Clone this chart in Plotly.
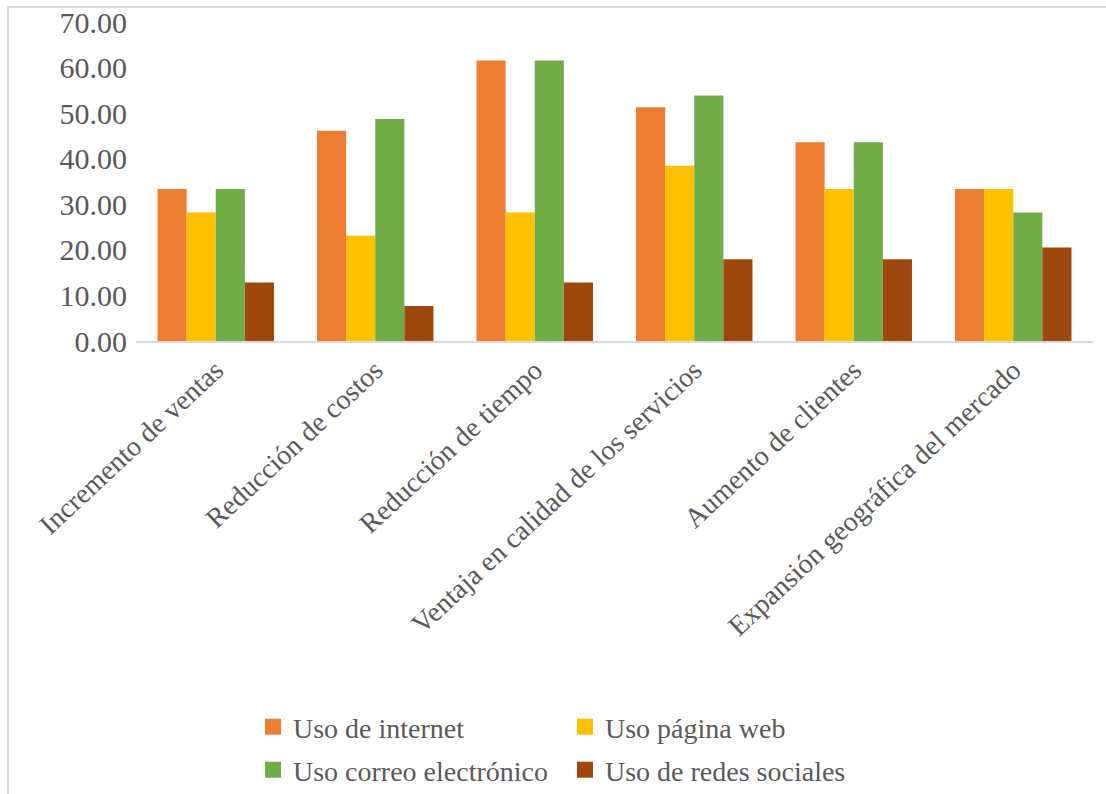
import plotly.graph_objects as go

categories = ["Incremento de ventas", "Reducción de costos", "Reducción de tiempo",
              "Ventaja en calidad de los servicios", "Aumento de clientes",
              "Expansión geográfica del mercado"]
internet = [33.33, 46.15, 61.54, 51.28, 43.59, 33.33]
pagina_web = [28.21, 23.08, 28.21, 38.46, 33.33, 33.33]
correo = [33.33, 48.72, 61.54, 53.85, 43.59, 28.21]
redes = [12.82, 7.69, 12.82, 17.95, 17.95, 20.51]
y_ticks = [0, 10, 20, 30, 40, 50, 60, 70]

FONT = "Liberation Serif"
GRAY = "#595959"

series = [
    ("Uso de internet", internet, "#ED7D31", "legend"),
    ("Uso página web", pagina_web, "#FFC000", "legend"),
    ("Uso correo electrónico", correo, "#70AD47", "legend2"),
    ("Uso de redes sociales", redes, "#9E480E", "legend2"),
]

fig = go.Figure()
for name, vals, color, leg in series:
    fig.add_trace(go.Bar(x=categories, y=vals, name=name, marker_color=color,
                         marker_line_width=0, showlegend=False))
for name, vals, color, leg in series:
    fig.add_trace(go.Scatter(x=[None], y=[None], mode="markers", name=name, legend=leg,
                             marker=dict(symbol="square", size=17, color=color, line=dict(width=0))))

W, H = 1106, 794
ml, mr, mt, mb = 136, 13, 22, 453
pw = W - ml - mr
ph = H - mt - mb

legend_common = dict(orientation="h", xref="container", yref="container", xanchor="left", yanchor="middle",
                     font=dict(family=FONT, size=28, color=GRAY), entrywidth=267, entrywidthmode="pixels",
                     bgcolor="rgba(0,0,0,0)", itemclick=False, traceorder="normal")

fig.update_layout(
    width=W, height=H,
    margin=dict(l=ml, r=mr, t=mt, b=mb),
    paper_bgcolor="white", plot_bgcolor="white",
    barmode="group", bargap=0.27, bargroupgap=0,
    font=dict(family=FONT, color=GRAY),
    legend=dict(x=253 / W, y=1 - 727 / H, **legend_common),
    legend2=dict(x=253 / W, y=1 - 770 / H, **legend_common),
    xaxis=dict(showgrid=False, showline=True, linecolor="#D9D9D9", linewidth=1.5, ticks="",
               tickangle=-43, tickfont=dict(family=FONT, size=28, color=GRAY), automargin=False),
    yaxis=dict(range=[0, 70], tickvals=y_ticks, ticktext=[f"{v:.2f}" for v in y_ticks],
               showgrid=False, showline=False, zeroline=False, ticks="",
               tickfont=dict(family=FONT, size=30, color=GRAY), automargin=False, ticklabelstandoff=8),
    shapes=[dict(type="rect", xref="paper", yref="paper",
                 x0=(8 - ml) / pw, x1=(1200 - ml) / pw,
                 y0=(H - mb - 900) / ph, y1=(H - mb - 7) / ph,
                 line=dict(color="#D9D9D9", width=2), fillcolor="rgba(0,0,0,0)", layer="below")],
)

fig.write_html("out.html")
